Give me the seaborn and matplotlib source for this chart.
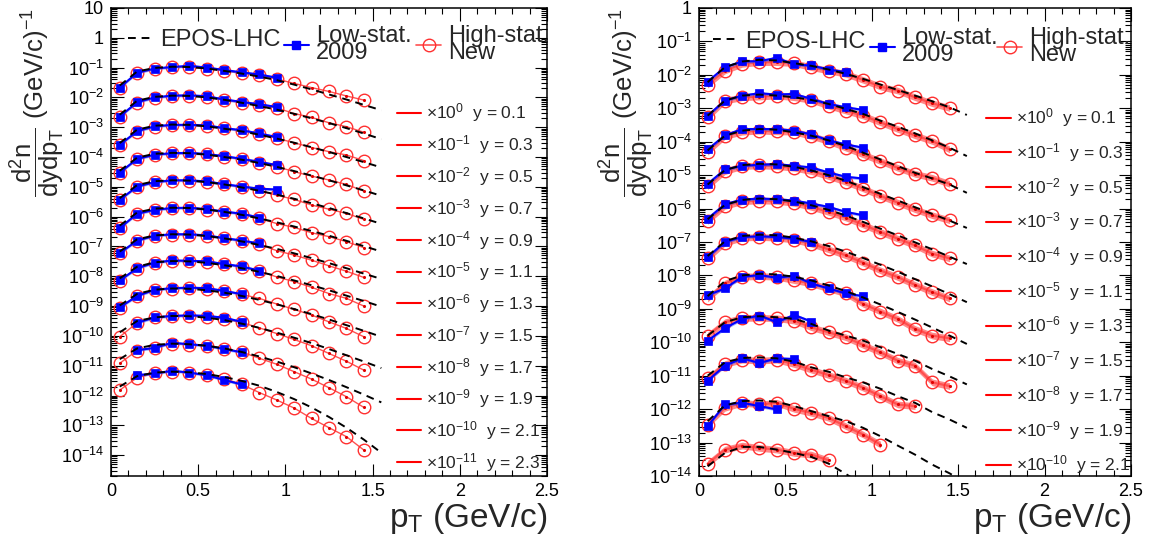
import numpy as np
import matplotlib
matplotlib.use("Agg")
import matplotlib.pyplot as plt
import seaborn as sns
from matplotlib.lines import Line2D
from matplotlib.ticker import LogLocator, FuncFormatter, MultipleLocator, NullFormatter

# ---------------- data (log10 of unscaled dn/dydpT) ----------------
PT = [0.05, 0.15, 0.25, 0.35, 0.45, 0.55, 0.65, 0.75, 0.85, 0.95, 1.05, 1.15, 1.25, 1.35, 1.45]
PT_EPOS = [0.05, 0.15, 0.25, 0.35, 0.45, 0.55, 0.65, 0.75, 0.85, 0.95, 1.05, 1.15, 1.25, 1.35, 1.45, 1.55]

LEFT_RAPIDITY = ["0.1", "0.3", "0.5", "0.7", "0.9", "1.1", "1.3", "1.5", "1.7", "1.9", "2.1", "2.3"]
LEFT_SCALE_EXP = [0, -1, -2, -3, -4, -5, -6, -7, -8, -9, -10, -11]

LEFT_RED = [
    [-1.68, -1.19, -1.05, -0.99, -0.99, -1.03, -1.11, -1.19, -1.26, -1.38, -1.53, -1.67, -1.80, -1.95, -2.09],
    [-1.65, -1.18, -1.01, -0.95, -0.94, -0.98, -1.09, -1.18, -1.26, -1.35, -1.54, -1.67, -1.85, -1.98, -2.17],
    [-1.60, -1.15, -0.98, -0.93, -0.93, -0.96, -1.04, -1.12, -1.23, -1.37, -1.52, -1.68, -1.82, -1.93, -2.12],
    [-1.53, -1.08, -0.93, -0.88, -0.88, -0.91, -0.99, -1.08, -1.19, -1.32, -1.49, -1.64, -1.77, -1.92, -2.14],
    [-1.44, -1.00, -0.85, -0.79, -0.79, -0.85, -0.92, -1.00, -1.13, -1.28, -1.42, -1.61, -1.75, -1.89, -2.09],
    [-1.39, -0.91, -0.78, -0.72, -0.72, -0.76, -0.84, -0.92, -1.06, -1.23, -1.36, -1.54, -1.67, -1.84, -2.04],
    [-1.23, -0.81, -0.65, -0.60, -0.60, -0.64, -0.73, -0.81, -0.93, -1.14, -1.29, -1.46, -1.65, -1.83, -2.04],
    [-1.15, -0.74, -0.55, -0.48, -0.49, -0.51, -0.60, -0.68, -0.83, -1.02, -1.18, -1.37, -1.58, -1.74, -2.00],
    [-1.05, -0.67, -0.46, -0.41, -0.39, -0.41, -0.50, -0.61, -0.74, -0.93, -1.11, -1.30, -1.53, -1.75, -2.03],
    [-1.03, -0.56, -0.38, -0.33, -0.33, -0.36, -0.44, -0.55, -0.73, -0.92, -1.12, -1.33, -1.59, -1.85, -2.15],
    [-0.92, -0.49, -0.40, -0.26, -0.29, -0.33, -0.43, -0.54, -0.75, -0.95, -1.20, -1.45, -1.74, -2.04, -2.40],
    [-0.82, -0.40, -0.26, -0.20, -0.24, -0.32, -0.43, -0.63, -0.90, -1.15, -1.42, -1.77, -2.08, -2.38, -2.83],
]
LEFT_BLUE_FIRST = [0, 0, 0, 0, 0, 0, 0, 0, 0, 1, 1, 1]
LEFT_BLUE = [
    [-1.67, -1.17, -1.03, -0.98, -0.94, -1.00, -1.08, -1.16, -1.23, -1.34],
    [-1.64, -1.16, -1.00, -0.94, -0.93, -0.96, -1.07, -1.15, -1.23, -1.32],
    [-1.59, -1.13, -0.97, -0.92, -0.92, -0.94, -1.03, -1.10, -1.21, -1.33],
    [-1.52, -1.06, -0.92, -0.87, -0.86, -0.90, -0.97, -1.06, -1.16, -1.27],
    [-1.43, -0.99, -0.84, -0.78, -0.78, -0.82, -0.91, -0.99, -1.06, -1.09],
    [-1.38, -0.90, -0.77, -0.71, -0.70, -0.75, -0.83, -0.90, -1.03],
    [-1.22, -0.80, -0.64, -0.59, -0.59, -0.63, -0.72, -0.80, -0.90],
    [-1.14, -0.73, -0.54, -0.47, -0.48, -0.50, -0.59, -0.67, -0.81],
    [-1.04, -0.66, -0.45, -0.40, -0.38, -0.40, -0.49, -0.60],
    [-0.56, -0.38, -0.33, -0.31, -0.33, -0.39, -0.53],
    [-0.48, -0.40, -0.23, -0.28, -0.33, -0.44, -0.55],
    [-0.32, -0.26, -0.17, -0.23, -0.32, -0.48, -0.63],
]
LEFT_EPOS = [
    [-1.60, -1.13, -1.01, -0.97, -0.98, -1.03, -1.11, -1.20, -1.30, -1.42, -1.57, -1.73, -1.90, -2.07, -2.25, -2.43],
    [-1.58, -1.11, -0.98, -0.94, -0.95, -1.00, -1.08, -1.18, -1.29, -1.41, -1.55, -1.70, -1.86, -2.03, -2.21, -2.40],
    [-1.53, -1.08, -0.95, -0.91, -0.92, -0.97, -1.05, -1.14, -1.25, -1.38, -1.52, -1.67, -1.83, -2.00, -2.17, -2.35],
    [-1.46, -1.02, -0.89, -0.86, -0.87, -0.92, -1.00, -1.09, -1.20, -1.33, -1.47, -1.62, -1.78, -1.95, -2.12, -2.30],
    [-1.38, -0.94, -0.81, -0.78, -0.79, -0.84, -0.92, -1.02, -1.13, -1.26, -1.40, -1.55, -1.71, -1.88, -2.06, -2.24],
    [-1.30, -0.86, -0.73, -0.70, -0.71, -0.76, -0.84, -0.94, -1.06, -1.19, -1.33, -1.48, -1.64, -1.81, -1.99, -2.17],
    [-1.17, -0.76, -0.63, -0.59, -0.60, -0.65, -0.73, -0.83, -0.95, -1.08, -1.23, -1.39, -1.56, -1.73, -1.91, -2.09],
    [-1.07, -0.68, -0.53, -0.49, -0.50, -0.55, -0.63, -0.73, -0.85, -0.99, -1.14, -1.30, -1.47, -1.65, -1.83, -2.02],
    [-0.98, -0.59, -0.45, -0.41, -0.42, -0.47, -0.55, -0.66, -0.79, -0.94, -1.10, -1.27, -1.45, -1.64, -1.83, -2.03],
    [-0.88, -0.50, -0.38, -0.33, -0.34, -0.39, -0.47, -0.59, -0.73, -0.89, -1.06, -1.24, -1.44, -1.65, -1.86, -2.08],
    [-0.78, -0.42, -0.30, -0.26, -0.28, -0.33, -0.42, -0.54, -0.69, -0.86, -1.05, -1.26, -1.48, -1.72, -1.97, -2.23],
    [-0.70, -0.35, -0.23, -0.20, -0.22, -0.28, -0.38, -0.51, -0.67, -0.88, -1.12, -1.40, -1.72, -2.08, -2.48, -2.92],
]

RIGHT_RAPIDITY = ["0.1", "0.3", "0.5", "0.7", "0.9", "1.1", "1.3", "1.5", "1.7", "1.9", "2.1"]
RIGHT_SCALE_EXP = [0, -1, -2, -3, -4, -5, -6, -7, -8, -9, -10]

RIGHT_RED = [
    [-2.29, -1.87, -1.67, -1.62, -1.62, -1.65, -1.77, -1.87, -1.97, -2.15, -2.35, -2.47, -2.67, -2.85, -2.99],
    [-2.27, -1.77, -1.67, -1.65, -1.62, -1.67, -1.75, -1.92, -2.07, -2.22, -2.42, -2.62, -2.81, -2.98, -3.23],
    [-2.30, -1.83, -1.70, -1.67, -1.69, -1.70, -1.83, -1.98, -2.18, -2.38, -2.58, -2.78, -2.96, -3.08, -3.26],
    [-2.33, -1.88, -1.73, -1.71, -1.73, -1.78, -1.88, -2.03, -2.20, -2.40, -2.62, -2.82, -3.02, -3.20, -3.35],
    [-2.37, -1.92, -1.78, -1.76, -1.77, -1.83, -1.95, -2.10, -2.27, -2.48, -2.70, -2.90, -3.10, -3.35, -3.49],
    [-2.49, -2.02, -1.87, -1.85, -1.87, -1.93, -2.05, -2.22, -2.40, -2.62, -2.85, -3.05, -3.28, -3.50, -3.69],
    [-2.69, -2.24, -2.04, -2.02, -2.04, -2.14, -2.24, -2.39, -2.54, -2.85, -3.08, -3.30, -3.60, -3.80, -3.88],
    [-2.80, -2.40, -2.27, -2.27, -2.28, -2.35, -2.55, -2.70, -2.85, -3.08, -3.30, -3.55, -3.70, -4.20, -4.31],
    [-3.08, -2.65, -2.52, -2.55, -2.52, -2.65, -2.82, -2.98, -3.15, -3.36, -3.61, -3.86, -3.91],
    [-3.46, -2.96, -2.81, -2.86, -2.81, -2.99, -3.11, -3.26, -3.51, -3.76, -4.06],
    [-3.63, -3.21, -3.09, -3.16, -3.21, -3.31, -3.36, -3.53],
]
RIGHT_BLUE = [
    [-2.20, -1.77, -1.60, -1.59, -1.49, -1.69, -1.72, -1.84, -1.92],
    [-2.22, -1.77, -1.62, -1.55, -1.59, -1.57, -1.72, -1.87, -1.97, -2.05],
    [-2.23, -1.81, -1.62, -1.62, -1.62, -1.67, -1.78, -1.96, -2.08, -2.18],
    [-2.26, -1.83, -1.72, -1.69, -1.67, -1.72, -1.77, -1.92, -2.05, -2.10],
    [-2.30, -1.87, -1.73, -1.70, -1.72, -1.76, -1.85, -1.95, -2.10, -2.20],
    [-2.45, -2.00, -1.85, -1.83, -1.85, -1.90, -2.00],
    [-2.59, -2.39, -2.04, -1.99, -2.07, -2.01, -2.24, -2.39, -2.54, -2.62],
    [-2.95, -2.58, -2.30, -2.20, -2.40, -2.18, -2.38],
    [-3.15, -2.70, -2.48, -2.62, -2.48, -2.50],
    [-3.51, -2.86, -2.81, -2.91, -3.01],
    [],
]
RIGHT_EPOS = [
    [-2.22, -1.77, -1.60, -1.55, -1.57, -1.65, -1.73, -1.84, -1.97, -2.12, -2.29, -2.45, -2.62, -2.79, -2.97, -3.20],
    [-2.22, -1.77, -1.62, -1.59, -1.62, -1.67, -1.75, -1.87, -2.02, -2.17, -2.37, -2.55, -2.75, -2.96, -3.18, -3.43],
    [-2.26, -1.82, -1.67, -1.62, -1.64, -1.72, -1.82, -1.96, -2.13, -2.33, -2.53, -2.73, -2.93, -3.10, -3.28, -3.53],
    [-2.28, -1.85, -1.70, -1.66, -1.68, -1.75, -1.86, -2.00, -2.17, -2.36, -2.56, -2.76, -2.96, -3.16, -3.36, -3.58],
    [-2.32, -1.89, -1.74, -1.70, -1.72, -1.79, -1.90, -2.04, -2.21, -2.40, -2.60, -2.80, -3.01, -3.22, -3.44, -3.66],
    [-2.42, -1.98, -1.82, -1.78, -1.80, -1.87, -1.98, -2.12, -2.29, -2.48, -2.68, -2.89, -3.11, -3.33, -3.56, -3.80],
    [-2.62, -2.17, -2.00, -1.95, -1.97, -2.04, -2.15, -2.30, -2.47, -2.66, -2.87, -3.09, -3.32, -3.56, -3.80, -4.05],
    [-2.80, -2.40, -2.25, -2.22, -2.25, -2.30, -2.45, -2.65, -2.80, -2.95, -3.15, -3.35, -3.55, -3.80, -4.02, -4.26],
    [-3.00, -2.60, -2.47, -2.45, -2.48, -2.58, -2.75, -2.88, -3.05, -3.20, -3.39, -3.61, -3.81, -4.09, -4.31, -4.56],
    [-3.36, -2.89, -2.76, -2.74, -2.78, -2.91, -3.06, -3.21, -3.36, -3.56, -3.81, -4.09, -4.36, -4.66, -4.92, -5.22],
    [-3.71, -3.31, -3.13, -3.13, -3.21, -3.31, -3.43, -3.63, -3.94, -4.27, -4.62],
]

# ---------------- style ----------------
sns.set_theme(style="ticks")
plt.rcParams["font.family"] = ["Liberation Sans", "DejaVu Sans"]
plt.rcParams["mathtext.fontset"] = "custom"
plt.rcParams["mathtext.rm"] = "Liberation Sans"
plt.rcParams["mathtext.it"] = "Liberation Sans:italic"
plt.rcParams["mathtext.bf"] = "Liberation Sans:bold"
plt.rcParams["axes.linewidth"] = 1.1
plt.rcParams["axes.edgecolor"] = "black"

RED_LINE = "#ff5050"
RED_MARK = "#ff3030"
RED_BAND = "#ff6a6a"
BLUE = "#0000ff"
BLUE_BAND = "#4060ff"

fig = plt.figure(figsize=(11.58, 5.43), dpi=100)
axL = fig.add_axes([111 / 1158, 1 - 476 / 543, 436 / 1158, 468 / 543])
axR = fig.add_axes([699 / 1158, 1 - 476 / 543, 432 / 1158, 468 / 543])


def ylab(v, pos):
    e = int(round(np.log10(v)))
    if e == 0:
        return "1"
    if e == 1:
        return "10"
    return r"$10^{%d}$" % e


def draw_panel(ax, red, blue, blue_first, epos, scale_exp, ylim, red_band, leg_pos):
    ax.set_yscale("log")
    for i in range(len(red)):
        s = scale_exp[i]
        xr = PT[:len(red[i])]
        yr = [10 ** (v + s) for v in red[i]]
        if red_band:
            ax.fill_between(xr, [10 ** (v + s - 0.1) for v in red[i]],
                            [10 ** (v + s + 0.1) for v in red[i]],
                            color=RED_BAND, alpha=0.8, lw=0, zorder=2)
        sns.lineplot(x=xr, y=yr, ax=ax, color=RED_LINE, lw=1.6 if red_band else 1.0,
                     marker="o", ms=9, mfc="none", mec=RED_MARK, mew=1.0,
                     estimator=None, sort=False, legend=False, zorder=3)
        sns.scatterplot(x=xr, y=yr, ax=ax, s=5, color="#e00000", linewidth=0,
                        legend=False, zorder=3.2)
        if len(blue[i]) > 0:
            f = blue_first[i]
            xb = PT[f:f + len(blue[i])]
            yb = [10 ** (v + s) for v in blue[i]]
            ax.fill_between(xb, [10 ** (v + s - 0.045) for v in blue[i]],
                            [10 ** (v + s + 0.045) for v in blue[i]],
                            color=BLUE_BAND, alpha=0.5, lw=0, zorder=3.5)
            sns.lineplot(x=xb, y=yb, ax=ax, color=BLUE, lw=1.5, marker="s", ms=5.5,
                         mfc=BLUE, mec=BLUE, mew=0.5, estimator=None, sort=False,
                         legend=False, zorder=4)
        xe = PT_EPOS[:len(epos[i])]
        ye = [10 ** (v + s) for v in epos[i]]
        sns.lineplot(x=xe, y=ye, ax=ax, color="black", lw=1.4, ls=(0, (4, 3)),
                     estimator=None, sort=False, legend=False, zorder=5)

    ax.set_xlim(0, 2.5)
    ax.set_ylim(*ylim)
    ax.xaxis.set_major_locator(MultipleLocator(0.5))
    ax.xaxis.set_minor_locator(MultipleLocator(0.1))
    ax.xaxis.set_major_formatter(FuncFormatter(lambda v, p: "%g" % v))
    ax.yaxis.set_major_locator(LogLocator(base=10, numticks=60))
    ax.yaxis.set_minor_locator(LogLocator(base=10, subs=np.arange(2, 10) * 1.0, numticks=60))
    ax.yaxis.set_major_formatter(FuncFormatter(ylab))
    ax.yaxis.set_minor_formatter(NullFormatter())
    ax.tick_params(which="both", direction="in", top=True, right=True, labelsize=13,
                   width=0.8, colors="black")
    ax.tick_params(which="major", length=9, pad=5)
    ax.tick_params(which="minor", length=4.5)
    for sp in ax.spines.values():
        sp.set_visible(True)
        sp.set_linewidth(1.1)
        sp.set_color("black")

    ax.set_xlabel(r"$\mathregular{p_{T}}$ (GeV/c)", fontsize=24, loc="right", labelpad=1)
    ax.set_ylabel(r"$\dfrac{\mathregular{d^{2}n}}{\mathregular{dydp_{T}}}$ (GeV/c)$^{\mathregular{-1}}$",
                  fontsize=18.5, loc="top")
    ax.yaxis.label.set_va("bottom")
    ax.yaxis.set_label_coords(-0.10, 1.0)

    # top legend: three separate entries placed like the original
    h_epos = Line2D([], [], color="black", lw=1.4, ls=(0, (4, 3)))
    h_blue = Line2D([], [], color=BLUE, lw=1.5, marker="s", ms=5.5, mfc=BLUE, mec=BLUE)
    h_red = Line2D([], [], color=RED_LINE, lw=1.2, marker="o", ms=9, mfc="none", mec=RED_MARK)
    for h, lab, pos in zip([h_epos, h_blue, h_red],
                           ["EPOS-LHC", "Low-stat.\n2009", "High-stat.\nNew"], leg_pos):
        lg = ax.legend([h], [lab], loc="center left", bbox_to_anchor=pos, frameon=False,
                       fontsize=17, handlelength=1.06, handletextpad=0.3,
                       borderaxespad=0, borderpad=0)
        for t in lg.get_texts():
            t.set_linespacing(0.74)
        ax.add_artist(lg)
    return ax


draw_panel(axL, LEFT_RED, LEFT_BLUE, LEFT_BLUE_FIRST, LEFT_EPOS, LEFT_SCALE_EXP,
           (10 ** -14.7, 10), red_band=False,
           leg_pos=[(0.039, 0.932), (0.396, 0.922), (0.700, 0.922)])
draw_panel(axR, RIGHT_RED, RIGHT_BLUE, [0] * len(RIGHT_BLUE), RIGHT_EPOS, RIGHT_SCALE_EXP,
           (1e-14, 1), red_band=True,
           leg_pos=[(0.032, 0.928), (0.395, 0.918), (0.690, 0.918)])

# rapidity legends
for ax, rap, sc, anchor, lsp in [(axL, LEFT_RAPIDITY, LEFT_SCALE_EXP, (0.655, 0.80), 0.51),
                                 (axR, RIGHT_RAPIDITY, RIGHT_SCALE_EXP, (0.665, 0.79), 0.68)]:
    handles = [Line2D([], [], color="red", lw=1.5) for _ in rap]
    labels = ["\u00d710$^{%d}$  y = %s" % (e, r) for e, r in zip(sc, rap)]
    ax.legend(handles, labels, loc="upper left", bbox_to_anchor=anchor, frameon=False,
              fontsize=12.5, handlelength=1.4, handletextpad=0.3, labelspacing=lsp,
              borderpad=0, borderaxespad=0)

fig.savefig("out.png", dpi=100)
